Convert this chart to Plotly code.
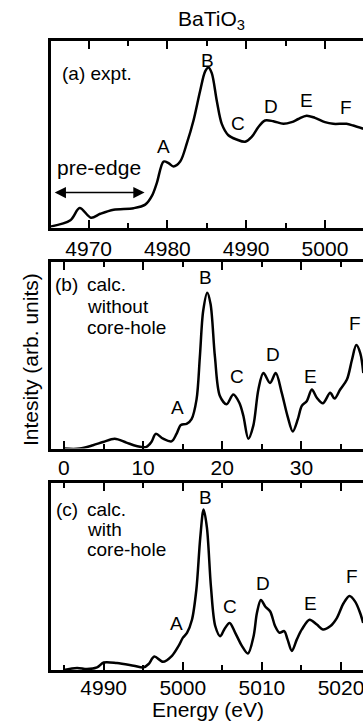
import plotly.graph_objects as go

# ---------------- data ----------------
# (a) experiment
a_energy = [4965.0, 4967.68, 4968.86, 4970.30, 4971.48, 4973.17, 4975.70, 4977.18, 4978.03, 4978.66,
            4979.51, 4980.14, 4980.77, 4981.62, 4982.46, 4983.31, 4984.15, 4984.79, 4985.21, 4985.63,
            4986.27, 4986.90, 4987.74, 4988.80, 4989.86, 4990.70, 4991.55, 4992.39, 4993.45, 4994.71,
            4995.77, 4996.62, 4997.67, 4998.73, 5000.00, 5001.05, 5002.74, 5003.59, 5004.85]
a_int = [0.4, 3.9, 10.5, 5.3, 7.4, 9.6, 10.4, 12.3, 17.0, 24.0,
         35.4, 34.6, 32.8, 35.4, 45.1, 57.4, 73.2, 83.7, 85.8, 82.8,
         67.9, 55.6, 49.5, 47.2, 46.0, 48.6, 53.9, 57.4, 57.0, 55.6,
         56.5, 58.2, 60.0, 58.8, 56.5, 55.6, 55.6, 54.7, 53.0]

# (b) calc. without core-hole (relative energy)
b_energy = [0.0, 1.98, 3.67, 4.94, 6.41, 7.89, 9.16, 10.42, 11.05, 11.60, 12.53, 13.59, 14.22, 14.77,
            15.49, 16.12, 16.75, 17.17, 17.59, 18.10, 18.52, 19.07, 19.70, 20.55, 21.39, 22.15,
            22.66, 23.29, 23.92, 24.56, 25.19, 26.03, 26.75, 27.51, 28.23, 28.90, 29.54, 30.04,
            30.68, 31.31, 31.94, 32.70, 33.63, 34.18, 34.89, 35.74, 36.37, 36.92, 37.43, 37.81]
b_int = [0.0, 0.0, 1.8, 3.5, 5.3, 3.2, 1.4, 0.9, 3.5, 7.9, 5.3, 3.9, 7.9, 12.7,
         13.2, 15.8, 26.4, 49.3, 73.9, 83.6, 77.5, 49.3, 28.2, 23.8, 29.0, 24.6,
         17.6, 5.3, 12.3, 31.7, 40.5, 35.2, 40.5, 29.9, 17.6, 9.2, 15.8, 22.9,
         25.5, 31.7, 27.3, 24.3, 29.9, 26.8, 31.7, 37.0, 47.5, 55.5, 51.1, 40.5]

# (c) calc. with core-hole
c_energy = [4984.95, 4986.63, 4987.89, 4989.16, 4990.00, 4991.68, 4993.79, 4995.05, 4995.68, 4996.40,
            4997.49, 4998.63, 4999.47, 5000.02, 5000.53, 5001.16, 5001.71, 5002.21, 5002.63, 5003.05,
            5003.56, 5004.11, 5004.74, 5005.24, 5005.92, 5006.63, 5007.47, 5008.23, 5008.95, 5009.37,
            5009.87, 5010.42, 5011.05, 5011.68, 5012.23, 5012.82, 5013.24, 5013.79, 5014.42, 5015.05,
            5016.02, 5016.95, 5017.71, 5018.63, 5019.47, 5020.32, 5021.07, 5021.79, 5022.42, 5022.80]
c_int = [0.0, 1.1, 0.5, 1.4, 4.0, 3.7, 2.3, 1.4, 3.2, 7.2,
         4.4, 7.6, 12.9, 17.3, 19.9, 26.9, 42.8, 71.0, 85.9, 76.2,
         44.5, 23.4, 18.1, 21.7, 25.2, 19.9, 12.9, 8.8, 18.1, 30.5,
         37.5, 34.0, 31.3, 23.4, 19.9, 20.8, 16.4, 10.2, 16.4, 21.7,
         26.9, 24.3, 21.7, 23.4, 27.8, 35.7, 39.6, 36.6, 30.5, 25.2]

peak_labels = ["A", "B", "C", "D", "E", "F"]
a_label_x = [4979.5, 4985.08, 4989.0, 4993.2, 4997.6, 5002.7]
a_label_y = [43.3, 89.8, 55.6, 64.7, 68.2, 64.4]
b_label_x = [14.3, 17.93, 21.8, 26.4, 31.2, 36.7]
b_label_y = [22.0, 91.5, 38.7, 50.2, 38.7, 66.9]
c_label_x = [4999.18, 5002.84, 5006.0, 5010.13, 5016.1, 5021.37]
c_label_y = [24.8, 92.1, 34.0, 46.3, 35.7, 49.8]

a_ticks = [4970, 4980, 4990, 5000]
b_ticks = [0, 10, 20, 30]
c_ticks = [4990, 5000, 5010, 5020]

FONT = "Liberation Sans, Arial, Helvetica, sans-serif"

fig = go.Figure()
line = dict(color="black", width=2.5, shape="spline", smoothing=0.9)
fig.add_trace(go.Scatter(x=a_energy, y=a_int, mode="lines", line=line, xaxis="x", yaxis="y", showlegend=False))
fig.add_trace(go.Scatter(x=b_energy, y=b_int, mode="lines", line=line, xaxis="x2", yaxis="y2", showlegend=False))
fig.add_trace(go.Scatter(x=c_energy, y=c_int, mode="lines", line=line, xaxis="x3", yaxis="y3", showlegend=False))


def xax(rng, ticks, anchor, standoff):
    return dict(range=rng, tickvals=ticks, ticktext=[str(t) for t in ticks],
                ticks="inside", ticklen=8, tickwidth=2, tickcolor="black",
                minor=dict(dtick=5, tick0=0, ticks="inside", ticklen=5, tickwidth=2, tickcolor="black"),
                showline=True, linewidth=2.8, linecolor="black", mirror="ticks",
                showgrid=False, zeroline=False, anchor=anchor, domain=[0, 1],
                ticklabeloverflow="allow", ticklabelstandoff=standoff,
                tickfont=dict(family=FONT, size=21, color="black"), fixedrange=True)


def yax(dom, anchor):
    return dict(range=[0, 100], domain=dom, showline=True, linewidth=2.8, linecolor="black",
                mirror=False, showticklabels=False, ticks="", showgrid=False, zeroline=False,
                anchor=anchor, fixedrange=True)


L, T, B = 51, 41, 54
W, H = 363, 724
PW, PH = W - L, H - T - B


def px(x):
    return (x - L) / PW


def py(y):
    return (H - B - y) / PH


fig.update_layout(
    width=W, height=H,
    margin=dict(l=L, r=0, t=T, b=B),
    paper_bgcolor="white", plot_bgcolor="white",
    xaxis=xax([4965.22, 5004.83], a_ticks, "y", 0),
    xaxis2=xax([-1.63, 37.77], b_ticks, "y2", -2),
    xaxis3=xax([4983.34, 5022.78], c_ticks, "y3", -3),
    yaxis=yax([py(227.6), 1.0], "x"),
    yaxis2=yax([py(448.6), py(262.1)], "x2"),
    yaxis3=yax([0.0, py(483.1)], "x3"),
)

ann = []
lab_font = dict(family=FONT, size=19, color="black")
for axn, xs, ys in (("", a_label_x, a_label_y), ("2", b_label_x, b_label_y), ("3", c_label_x, c_label_y)):
    for t, x, y in zip(peak_labels, xs, ys):
        ann.append(dict(x=x, y=y, xref="x" + axn, yref="y" + axn, text=t, showarrow=False,
                        xanchor="center", yanchor="middle", font=lab_font))

# panel texts
ann.append(dict(x=4966.3, y=82.8, xref="x", yref="y", text="(a) expt.", showarrow=False,
                xanchor="left", yanchor="middle", font=lab_font))
ann.append(dict(x=4971.3, y=32.0, xref="x", yref="y", text="pre-edge", showarrow=False,
                xanchor="center", yanchor="middle", font=dict(family=FONT, size=21, color="black")))
ann.append(dict(x=4977.1, y=18.8, ax=4965.5, ay=18.8, xref="x", yref="y", axref="x", ayref="y",
                text="", showarrow=True, arrowside="end+start", arrowhead=2, arrowsize=1.5,
                arrowwidth=1.5, arrowcolor="black"))

ann.append(dict(x=-1.39, y=87.9, xref="x2", yref="y2", text="(b)", showarrow=False,
                xanchor="left", yanchor="middle", font=lab_font))
for t, y in (("calc.", 87.9), ("without", 76.4), ("core-hole", 65.0)):
    ann.append(dict(x=2.62, y=y, xref="x2", yref="y2", text=t, showarrow=False,
                    xanchor="left", yanchor="middle", font=lab_font))

ann.append(dict(x=4983.68, y=85.8, xref="x3", yref="y3", text="(c)", showarrow=False,
                xanchor="left", yanchor="middle", font=lab_font))
for t, y in (("calc.", 85.8), ("with", 75.0), ("core-hole", 64.3)):
    ann.append(dict(x=4987.68, y=y, xref="x3", yref="y3", text=t, showarrow=False,
                    xanchor="left", yanchor="middle", font=lab_font))

# titles
ann.append(dict(x=px(211.7), y=py(20), xref="paper", yref="paper",
                xanchor="center", yanchor="middle",
                text="BaTiO<sub>3</sub>", showarrow=False, font=dict(family=FONT, size=21, color="black")))
ann.append(dict(x=px(30), y=py(360), xref="paper", yref="paper",
                xanchor="center", yanchor="middle",
                text="Intesity (arb. units)", textangle=-90, showarrow=False,
                font=dict(family=FONT, size=21, color="black")))
ann.append(dict(x=px(208), y=py(709), xref="paper", yref="paper",
                xanchor="center", yanchor="middle",
                text="Energy (eV)", showarrow=False, font=dict(family=FONT, size=21, color="black")))

fig.update_layout(annotations=ann)
fig.write_html("out.html")
